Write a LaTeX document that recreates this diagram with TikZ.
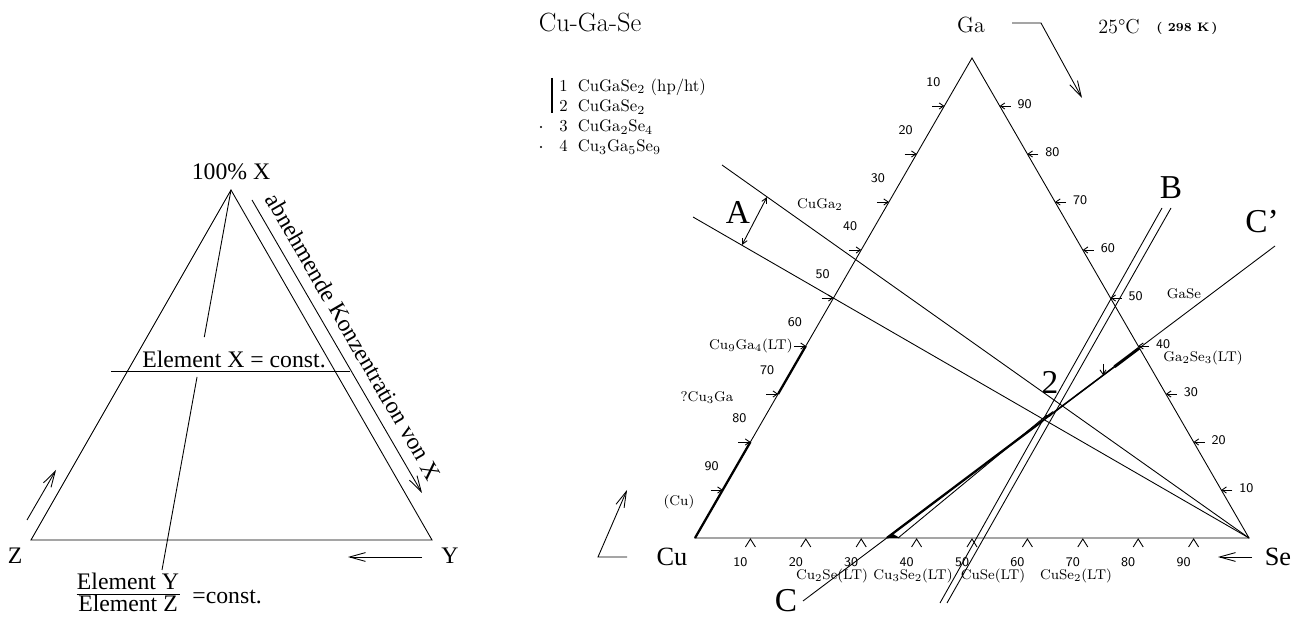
\documentclass[tikz,border=0pt]{standalone}
\usepackage{fontspec}
\usetikzlibrary{arrows.meta,calc}
\newfontfamily\timesf{Liberation Serif}
\tikzset{
  bigarr/.style={-{Straight Barb[length=9pt,width=5pt]}},
  tickarr/.style={-{Straight Barb[length=2.5pt,width=3.5pt]}},
  lefttxt/.style={font=\timesf\fontsize{13.5}{16}\selectfont,inner sep=0pt},
  bigtxt/.style={font=\timesf\fontsize{19}{22}\selectfont,inner sep=0pt},
  cornertxt/.style={font=\timesf\fontsize{15}{18}\selectfont,inner sep=0pt},
  phasetxt/.style={font=\fontsize{8}{10}\selectfont,inner sep=0pt},
  legtxt/.style={font=\fontsize{9.5}{11}\selectfont,inner sep=0pt},
  numtxt/.style={font=\sffamily\fontsize{7.5}{9}\selectfont,inner sep=0pt},
  tie/.style={line width=1.3pt},
}
\begin{document}
\begin{tikzpicture}[x=0.2mm,y=-0.2mm,line width=0.5pt]
  \useasboundingbox (0,0) rectangle (1300,619);

  % Left triangle: general scheme
  \coordinate (X) at (231,190);
  \coordinate (Z) at (31,540);
  \coordinate (Y) at (432,540);
  \coordinate (ratioend) at (162,570);
  \draw (X) -- (Z) -- (Y) -- cycle;
  \draw (X) -- ($(X)!0.387!(ratioend)$);
  \draw ($(X)!0.492!(ratioend)$) -- (ratioend);
  \draw (111,371) -- (350,371);
  \node[lefttxt,anchor=base] (constX) at (234,368) {Element X = const.};
  \node[lefttxt] (labX) at (231,172) {100\% X};
  \node[lefttxt] (labZ) at (15,556) {Z};
  \node[lefttxt] (labY) at (450,556) {Y};

  % Arrows and labels round the triangle
  \draw[bigarr] (252,200) -- node[lefttxt,midway,sloped,above=6pt] (decr) {abnehmende Konzentration von X} (422,493);
  \draw[bigarr] (27,520) -- (56,470);
  \draw[bigarr] (422,557) -- (348,557);
  \node[lefttxt,anchor=base] (numY) at (128,590) {Element Y};
  \node[lefttxt,anchor=base] (denZ) at (128,612) {Element Z};
  \draw (numY.south west) ++(0,4) -- ++(103,0);
  \node[lefttxt,anchor=base west] (ratioc) at (192,604) {=const.};

  % Right triangle: Cu-Ga-Se
  \coordinate (Ga) at (972,58);
  \coordinate (Cu) at (695,538);
  \coordinate (Se) at (1249,538);
  \draw (Ga) -- (Cu) -- (Se) -- cycle;

  % Scale ticks on the three sides
  \foreach \i in {1,...,9} {
    \pgfmathtruncatemacro{\n}{10*\i}
    \pgfmathtruncatemacro{\m}{100-10*\i}
    \coordinate (L\i) at ($(Ga)!\i/10!(Cu)$);
    \coordinate (R\i) at ($(Ga)!\i/10!(Se)$);
    \coordinate (B\i) at ($(Cu)!\i/10!(Se)$);
    \draw[tickarr] ($(L\i)+(-12,0)$) -- (L\i);
    \draw[tickarr] ($(R\i)+(11,0)$) -- (R\i);
    \draw ($(B\i)+(-5,9)$) -- ($(B\i)+(0,1)$) -- ($(B\i)+(5,9)$);
    \node[numtxt] (nL\i) at ($(L\i)+(-11,-24)$) {\n};
    \node[numtxt] (nR\i) at ($(R\i)+(25,-2)$) {\m};
    \node[numtxt] (nB\i) at ($(B\i)+(-10,24)$) {\n};
  }

  % Single phase ranges on the Cu-Ga side
  \draw[tie] (L6) -- (L7);
  \draw[tie] (L8) -- (Cu);

  % Sections A, B, C
  \coordinate (Aup) at (722,165);
  \coordinate (Alow) at (693,217);
  \draw (Se) -- (Aup);
  \draw (Se) -- (Alow);
  \coordinate (Aa) at (767,197);
  \coordinate (Ab) at (742,245);
  \draw[{Straight Barb[length=3pt,width=3pt]}-{Straight Barb[length=3pt,width=3pt]}] (Aa) -- (Ab);
  \draw (940,603) -- (1162,208);
  \draw (947,603) -- (1171,208);
  \coordinate (Cbot) at (803,601);
  \coordinate (Ctop) at (1275,246);
  \draw (Cbot) -- (Ctop);

  % Tie lines through CuGaSe2
  \coordinate (P2) at (1047,415);
  \draw[tie] ($(Cbot)!0.178!(Ctop)$) -- ($(Cbot)!0.508!(Ctop)$);
  \draw[line width=0.9pt] ($(Cbot)!0.508!(Ctop)$) -- ($(Cbot)!0.66!(Ctop)$);
  \draw[line width=1.7pt] ($(Cbot)!0.66!(Ctop)$) -- ($(Cbot)!0.712!(Ctop)$);
  \draw (898,538) -- (P2);
  \fill (886,538) -- (900,538) -- (893,534) -- cycle;
  \fill (1042,419) -- (1053,411) -- (1051,416) -- cycle;
  \draw[tickarr] (1103,364) -- (1103,375);

  % Phase labels
  \node[phasetxt] (cuga2) at (820,205) {CuGa$_2$};
  \node[phasetxt,anchor=east] (cu9ga4) at (793,346) {Cu$_9$Ga$_4$(LT)};
  \node[phasetxt] (cu3ga) at (707,398) {?Cu$_3$Ga};
  \node[phasetxt] (cuss) at (679,502) {(Cu)};
  \node[phasetxt] (gase) at (1184,294) {GaSe};
  \node[phasetxt] (ga2se3) at (1203,358) {Ga$_2$Se$_3$(LT)};
  \node[phasetxt] (cu2se) at (832,576) {Cu$_2$Se(LT)};
  \node[phasetxt] (cu3se2) at (913,576) {Cu$_3$Se$_2$(LT)};
  \node[phasetxt] (cuse) at (993,576) {CuSe(LT)};
  \node[phasetxt] (cuse2) at (1076,576) {CuSe$_2$(LT)};

  % Title, legend, temperature
  \node[font=\fontsize{15}{18}\selectfont,inner sep=0pt] (title) at (590,23) {Cu-Ga-Se};
  \draw[line width=0.9pt] (552,78) -- (552,113);
  \fill (541,127) circle (0.7pt);
  \fill (541,147) circle (0.7pt);
  \node[legtxt,anchor=west] (leg1) at (559,87) {1\hspace{0.6em}CuGaSe$_2$ (hp/ht)};
  \node[legtxt,anchor=west] (leg2) at (559,107) {2\hspace{0.6em}CuGaSe$_2$};
  \node[legtxt,anchor=west] (leg3) at (559,127) {3\hspace{0.6em}CuGa$_2$Se$_4$};
  \node[legtxt,anchor=west] (leg4) at (559,147) {4\hspace{0.6em}Cu$_3$Ga$_5$Se$_9$};
  \node[font=\fontsize{12.5}{14}\selectfont,inner sep=0pt] (labGa) at (971,25) {Ga};
  \draw[bigarr] (1012,23) -- (1041,23) -- (1082,98);
  \node[font=\fontsize{11.5}{13}\selectfont,inner sep=0pt] (temp) at (1119,27) {25°C};
  \node[font=\bfseries\fontsize{7}{8}\selectfont,inner sep=0pt] (kelvin) at (1187,28) {(\ 298\ K\,)};

  % Corner labels and arrows
  \node[cornertxt] (labCu) at (672,557) {Cu};
  \node[cornertxt] (labSe) at (1278,557) {Se};
  \draw[bigarr] (627,557) -- (598,557) -- (627,490);
  \draw[bigarr] (1252,557) -- (1218,557);

  % Section letters
  \node[bigtxt] (secA) at (738,212) {A};
  \node[bigtxt] (secB) at (1171,188) {B};
  \node[bigtxt] (secC) at (786,601) {C};
  \node[bigtxt] (secCp) at (1262,222) {C’};
  \node[bigtxt] (sec2) at (1050,382) {2};
\end{tikzpicture}
\end{document}
